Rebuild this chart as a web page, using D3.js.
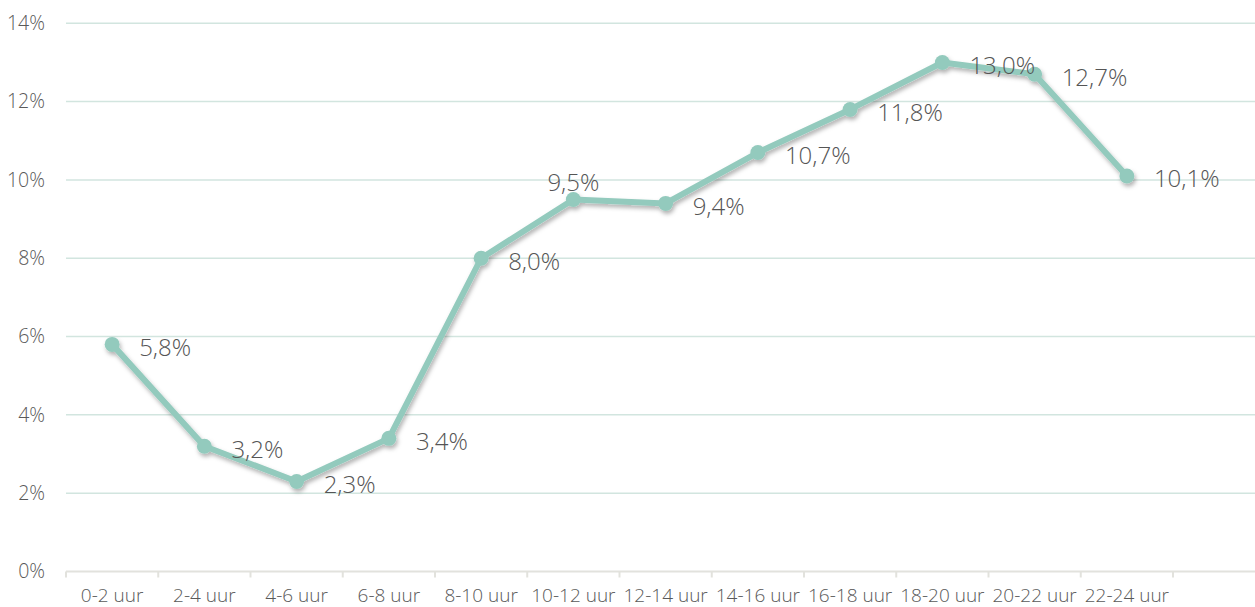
<!DOCTYPE html>
<html><head><meta charset="utf-8">
<script src="https://cdn.jsdelivr.net/npm/d3@7"></script>
<style>
html,body{margin:0;padding:0;background:#fff;}
svg{display:block;font-family:"Open Sans",sans-serif;}
</style></head>
<body><svg id="c" width="1255" height="607"></svg>
<script>
const categories = ["0-2 uur","2-4 uur","4-6 uur","6-8 uur","8-10 uur","10-12 uur","12-14 uur","14-16 uur","16-18 uur","18-20 uur","20-22 uur","22-24 uur"];
const values = [5.8,3.2,2.3,3.4,8.0,9.5,9.4,10.7,11.8,13.0,12.7,10.1];
const yTicks = [0,2,4,6,8,10,12,14];
const labelPlacement = ["right","right","right","right","right","above","right","right","right","right","right","right"];

(function(){
const svg = d3.select("#c");
const mLeft = 66, bandRight = 1173, mRight = 1255, mTop = 23.3, mBottom = 571.5;
const x = d3.scaleBand().domain(categories).range([mLeft, bandRight]);
const y = d3.scaleLinear().domain([0,14]).range([mBottom, mTop]);
const fmt = v => d3.format(".1f")(v).replace(".", ",") + "%";

const defs = svg.append("defs");
const f = defs.append("filter").attr("id","sh").attr("x","-20%").attr("y","-20%").attr("width","140%").attr("height","140%");
f.append("feDropShadow").attr("dx",1.5).attr("dy",3).attr("stdDeviation",2.2).attr("flood-color","#000").attr("flood-opacity",0.3);

// gridlines
svg.append("g").selectAll("line").data(yTicks.filter(d=>d>0)).join("line")
  .attr("x1",mLeft).attr("x2",mRight).attr("y1",d=>y(d)).attr("y2",d=>y(d))
  .attr("stroke","#d2e5df").attr("stroke-width",1.5);

// y labels
svg.append("g").selectAll("text").data(yTicks).join("text")
  .attr("x",45).attr("y",d=>y(d)).attr("dy","0.35em").attr("text-anchor","end")
  .attr("font-size",19.5).attr("font-weight",300).attr("fill","#595959").text(d=>d+"%");

// x axis
const xa = svg.append("g");
xa.append("line").attr("x1",mLeft).attr("x2",mRight).attr("y1",mBottom).attr("y2",mBottom)
  .attr("stroke","#e2e2dd").attr("stroke-width",2);
const bounds = categories.map(c=>x(c)).concat([x(categories[categories.length-1])+x.bandwidth()]);
xa.selectAll("line.t").data(bounds).join("line").attr("class","t")
  .attr("x1",d=>d).attr("x2",d=>d).attr("y1",mBottom).attr("y2",mBottom+6)
  .attr("stroke","#e2e2dd").attr("stroke-width",2);
xa.selectAll("text").data(categories).join("text")
  .attr("x",d=>x(d)+x.bandwidth()/2).attr("y",595).attr("dy","0.35em").attr("text-anchor","middle")
  .attr("font-size",19).attr("font-weight",300).attr("fill","#595959").text(d=>d);

// line
const cx = (d,i)=>x(categories[i])+x.bandwidth()/2;
const g = svg.append("g").attr("filter","url(#sh)");
g.append("path").datum(values)
  .attr("d", d3.line().x((d,i)=>cx(d,i)).y(d=>y(d)))
  .attr("fill","none").attr("stroke","#93cabd").attr("stroke-width",6).attr("stroke-linejoin","round");
g.selectAll("circle").data(values).join("circle")
  .attr("cx",(d,i)=>cx(d,i)).attr("cy",d=>y(d)).attr("r",7.5).attr("fill","#93cabd");

// labels
svg.append("g").selectAll("text").data(values).join("text")
  .attr("x",(d,i)=> labelPlacement[i]==="above" ? cx(d,i) : cx(d,i)+27)
  .attr("y",(d,i)=> labelPlacement[i]==="above" ? y(d)-17 : y(d)+3)
  .attr("dy","0.35em")
  .attr("text-anchor",(d,i)=> labelPlacement[i]==="above" ? "middle" : "start")
  .attr("font-size",24).attr("font-weight",300).attr("fill","#555555").text(d=>fmt(d));
})();
</script></body></html>
